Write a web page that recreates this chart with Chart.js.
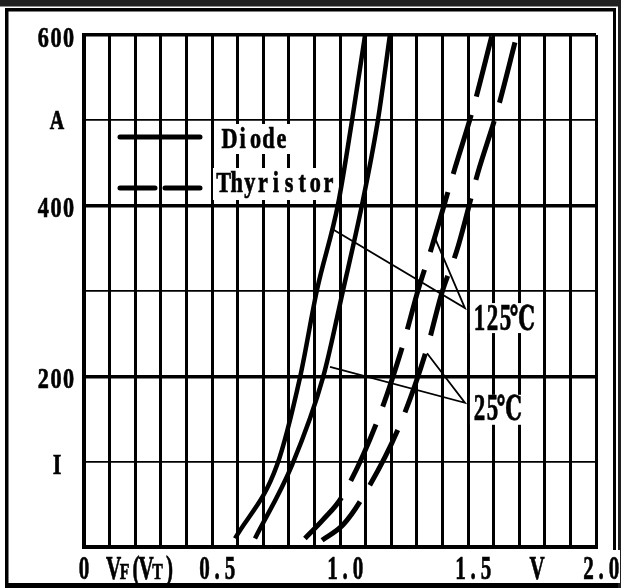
<!DOCTYPE html>
<html>
<head>
<meta charset="utf-8">
<script src="https://cdn.jsdelivr.net/npm/chart.js@4.4.1/dist/chart.umd.min.js"></script>
<style>
  html, body { margin: 0; padding: 0; background: #fff; }
  #wrap { position: relative; width: 621px; height: 588px; }
</style>
</head>
<body>
<div id="wrap"><canvas id="chart" width="621" height="588"></canvas></div>
<script>
// Forward voltage (V) / current (A)
const diode125V = [0.59, 0.754, 0.844, 0.91, 0.992, 1.047, 1.098];
const diode125I = [10, 96, 199, 301, 401, 500, 600];
const diode25V = [0.668, 0.8125, 0.934, 1.012, 1.086, 1.148, 1.195];
const diode25I = [10, 96, 199, 301, 401, 500, 600];
const thyr125V = [0.863, 0.934, 1.008, 1.145, 1.246, 1.305, 1.359, 1.449, 1.52, 1.594];
const thyr125I = [10, 32, 59, 147, 237, 301, 352, 444, 514, 600];
const thyr25V = [0.93, 1.012, 1.09, 1.234, 1.34, 1.398, 1.457, 1.539, 1.613, 1.691];
const thyr25I = [8, 26, 59, 143, 233, 298, 348, 439, 510, 600];

// Pointer lines from the temperature labels to the curves
const pointer125V = [0.973, 1.488, 1.371];
const pointer125I = [372, 280, 362];
const pointer25V = [0.961, 1.488, 1.34];
const pointer25I = [211, 169, 227];

// Tick labels
const xTickValues = [0, 0.5, 1.0, 1.5, 2.0];
const xTickText = ['0', '0.5', '1.0', '1.5', '2.0'];
const yTickValues = [600, 500, 400, 200, 100];
const yTickText = ['600', 'A', '400', '200', 'I'];

function toPoints(xs, ys) {
    return xs.map((x, i) => ({ x: x, y: ys[i] }));
}

const SERIF = '"Liberation Serif", "DejaVu Serif", serif';

// draw a string char by char on a fixed pitch, horizontally squeezed
function monoText(ctx, str, left, baseline, pitch, size, sx) {
    ctx.save();
    ctx.font = 'bold ' + size + 'px ' + SERIF;
    ctx.textAlign = 'center';
    ctx.textBaseline = 'alphabetic';
    ctx.fillStyle = '#000';
    ctx.strokeStyle = '#000';
    ctx.lineWidth = 0.7;
    for (let i = 0; i < str.length; i++) {
        ctx.save();
        ctx.translate(left + pitch * (i + 0.5), baseline);
        ctx.scale(sx, 1);
        ctx.fillText(str[i], 0, 0);
        ctx.strokeText(str[i], 0, 0);
        ctx.restore();
    }
    ctx.restore();
}

function whiteBox(ctx, x, y, w, h) {
    ctx.save();
    ctx.fillStyle = '#fff';
    ctx.fillRect(x, y, w, h);
    ctx.restore();
}

const framePlugin = {
    id: 'frame',
    beforeDraw(chart) {
        const ctx = chart.ctx;
        ctx.save();
        ctx.fillStyle = '#fff';
        ctx.fillRect(0, 0, chart.width, chart.height);
        ctx.fillStyle = '#202020';
        ctx.fillRect(0, 0, 621, 6.5);
        ctx.fillStyle = '#000';
        ctx.fillRect(5, 8, 611, 3.5);     // top
        ctx.fillRect(5, 8, 3.5, 580);     // left
        ctx.fillRect(5, 583, 616, 5);     // bottom
        ctx.fillRect(613, 8, 3, 580);     // right inner
        ctx.fillStyle = '#202020';
        ctx.fillRect(618, 0, 3, 588);     // right outer
        ctx.restore();
    }
};

const labelPlugin = {
    id: 'labels',
    beforeDatasetsDraw(chart) {
        const ctx = chart.ctx;
        const xs = chart.scales.x, ys = chart.scales.y;
        const a = chart.chartArea;

        // legend
        ctx.save();
        ctx.strokeStyle = '#000';
        ctx.lineWidth = 5;
        ctx.lineCap = 'round';
        ctx.beginPath();
        ctx.moveTo(a.left + 36, a.top + 102);
        ctx.lineTo(a.left + 116, a.top + 102);
        ctx.moveTo(a.left + 36, a.top + 153);
        ctx.lineTo(a.left + 71, a.top + 153);
        ctx.moveTo(a.left + 81, a.top + 153);
        ctx.lineTo(a.left + 116, a.top + 153);
        ctx.stroke();
        ctx.restore();

        whiteBox(ctx, a.left + 132, a.top + 89, 78, 30);
        monoText(ctx, 'Diode', a.left + 139, a.top + 113, 13, 30, 0.74);
        whiteBox(ctx, a.left + 129, a.top + 133, 125, 32);
        monoText(ctx, 'Thyristor', a.left + 133, a.top + 157, 13.1, 30, 0.74);

        // temperature labels at the pointer tips
        const t1x = xs.getPixelForValue(pointer125V[1]);
        const t1y = ys.getPixelForValue(pointer125I[1]);
        whiteBox(ctx, t1x + 5, t1y - 5, 67, 30);
        monoText(ctx, '125', t1x + 8, t1y + 22, 13, 37, 0.62);
        monoText(ctx, '\u2103', t1x + 47, t1y + 22, 21, 34, 0.62);

        const t2x = xs.getPixelForValue(pointer25V[1]);
        const t2y = ys.getPixelForValue(pointer25I[1]);
        whiteBox(ctx, t2x + 5, t2y - 8, 55, 30);
        monoText(ctx, '25', t2x + 8, t2y + 17, 13, 37, 0.62);
        monoText(ctx, '\u2103', t2x + 34, t2y + 17, 21, 34, 0.62);
    },
    afterDraw(chart) {
        const ctx = chart.ctx;
        const xs = chart.scales.x, ys = chart.scales.y;

        // y tick labels
        yTickValues.forEach((v, i) => {
            const t = yTickText[i];
            const py = ys.getPixelForValue(v);
            if (t.length === 1) {
                monoText(ctx, t, 57 - 6.5, py + (t === 'A' ? 9 : 12), 13, t === 'A' ? 27 : 30, 0.74);
            } else {
                monoText(ctx, t, 75 - 3 * 12.7, py + 11.5, 12.7, 30, 0.74);
            }
        });

        // x tick labels
        const base = 579;
        xTickValues.forEach((v, i) => {
            const t = xTickText[i];
            const px = xs.getPixelForValue(v);
            if (t.length === 1) {
                monoText(ctx, t, px - 6.25, base, 12.5, 34, 0.62);
            } else {
                if (v === 2.0) whiteBox(ctx, px - 16, 550, 40, 33);
                monoText(ctx, t, px - 14, base, 12.8, 34, 0.62);
            }
        });

        // axis names: V_F (V_T) and V
        const vx = xs.getPixelForValue(0.1);
        monoText(ctx, 'V', vx - 2, base, 12, 34, 0.62);
        monoText(ctx, 'F', vx + 10, base, 10, 24, 0.66);
        monoText(ctx, '(', vx + 21, base, 11, 34, 0.62);
        monoText(ctx, 'V', vx + 30.5, base, 12, 34, 0.62);
        monoText(ctx, 'T', vx + 43, base, 10, 24, 0.66);
        monoText(ctx, ')', vx + 54.5, base, 11, 34, 0.62);
        monoText(ctx, 'V', xs.getPixelForValue(1.77) - 6, base, 12, 34, 0.62);
    }
};

const solidStyle = {
    showLine: true,
    borderColor: '#000',
    borderWidth: 4.5,
    pointRadius: 0,
    cubicInterpolationMode: 'monotone',
    borderCapStyle: 'butt'
};
const dashStyle = Object.assign({}, solidStyle, {
    borderWidth: 5,
    borderDash: [62, 19],
    borderDashOffset: 7
});
const pointerStyle = {
    showLine: true,
    borderColor: '#000',
    borderWidth: 1.8,
    pointRadius: 0,
    tension: 0,
    borderJoinStyle: 'miter'
};

let chart;
try {
    const ctx = document.getElementById('chart');
    chart = new Chart(ctx.getContext('2d'), {
        type: 'scatter',
        data: {
            datasets: [
                Object.assign({ label: 'Diode 125', data: toPoints(diode125V, diode125I) }, solidStyle),
                Object.assign({ label: 'Diode 25', data: toPoints(diode25V, diode25I) }, solidStyle),
                Object.assign({ label: 'Thyristor 125', data: toPoints(thyr125V, thyr125I) }, dashStyle),
                Object.assign({ label: 'Thyristor 25', data: toPoints(thyr25V, thyr25I) }, dashStyle),
                Object.assign({ label: 'ptr 125', data: toPoints(pointer125V, pointer125I) }, pointerStyle),
                Object.assign({ label: 'ptr 25', data: toPoints(pointer25V, pointer25I) }, pointerStyle)
            ]
        },
        options: {
            responsive: false,
            animation: false,
            devicePixelRatio: 1,
            layout: { padding: { left: 84, top: 35, right: 25, bottom: 41 } },
            scales: {
                x: {
                    type: 'linear',
                    min: 0,
                    max: 2,
                    ticks: { display: false, stepSize: 0.1 },
                    grid: { color: '#000', lineWidth: 3, drawTicks: false },
                    border: { display: true, color: '#000', width: 4 }
                },
                y: {
                    type: 'linear',
                    min: 0,
                    max: 600,
                    ticks: { display: false, stepSize: 100 },
                    grid: {
                        color: '#000',
                        drawTicks: false,
                        lineWidth: (c) => (c.tick && c.tick.value % 200 === 0) ? 3.5 : 1.8
                    },
                    border: { display: true, color: '#000', width: 4 }
                }
            },
            plugins: {
                legend: { display: false },
                tooltip: { enabled: false }
            }
        },
        plugins: [framePlugin, labelPlugin]
    });
} catch (error) {
    console.error('Error initializing chart:', error);
}
</script>
</body>
</html>
